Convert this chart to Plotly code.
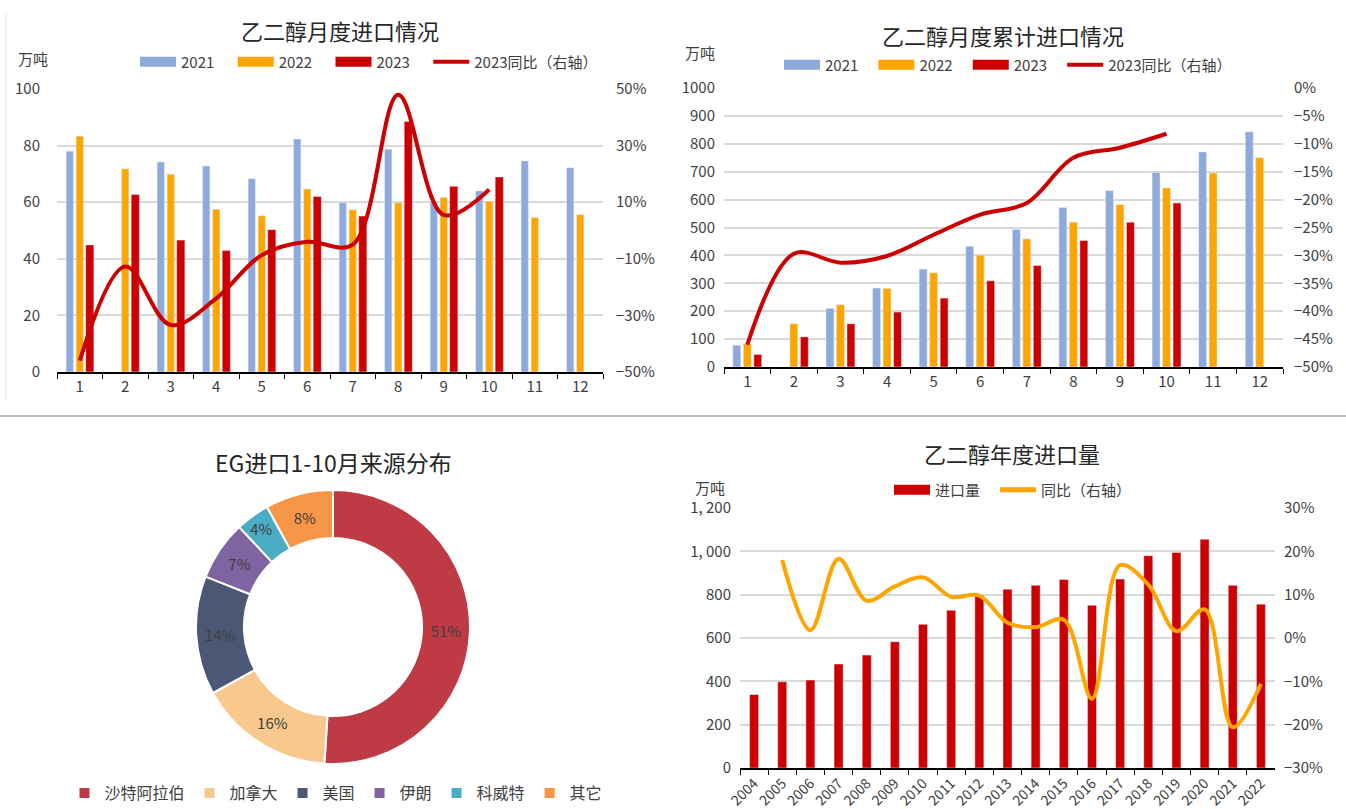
import plotly.graph_objects as go

# ---------------- data ----------------
months = [str(i) for i in range(1, 13)]
m2021 = [78.0, None, 74.2, 72.8, 68.3, 82.3, 59.8, 78.7, 60.2, 64.0, 74.6, 72.2]
m2022 = [83.3, 71.8, 69.9, 57.5, 55.2, 64.7, 57.3, 59.8, 61.7, 60.3, 54.6, 55.6]
m2023 = [44.9, 62.7, 46.6, 42.9, 50.3, 62.0, 55.1, 88.5, 65.6, 68.9]
m_yoy = [-46.0, -12.7, -33.4, -24.0, -8.7, -4.0, -5.0, 48.0, 5.5, 14.5]

c2021 = [78, None, 210, 283, 351, 433, 493, 572, 632, 697, 771, 843]
c2022 = [83, 155, 223, 282, 338, 401, 459, 519, 582, 642, 695, 750]
c2023 = [45, 108, 155, 197, 247, 309, 364, 453, 519, 588]
c_yoy = [-46.0, -29.7, -31.3, -30.1, -26.3, -22.7, -20.6, -12.5, -10.7, -8.2]

years = [str(y) for y in range(2004, 2023)]
annual = [339, 398, 406, 480, 521, 583, 663, 728, 795, 825, 843, 870, 751, 872, 980, 995, 1056, 843, 756]
annual_yoy = [None, 18.0, 1.8, 18.3, 8.6, 11.9, 14.0, 9.5, 9.8, 3.5, 2.5, 4.2, -14.0, 16.8, 12.3, 1.6, 6.6, -20.6, -10.6]

sources = ['沙特阿拉伯', '加拿大', '美国', '伊朗', '科威特', '其它']
shares = [51, 16, 14, 7, 4, 8]

annual_ticks = [0, 200, 400, 600, 800, 1000, 1200]
annual_tick_labels = ['0', '200', '400', '600', '800', '1, 000', '1, 200']

# ---------------- styles ----------------
W, H = 1346, 809
FONT = 'Noto Sans CJK SC'
C21, C22, C23 = '#8EA9DB', '#FFA500', '#CC0000'
TXT = '#404040'
GRID = '#D9D9D9'
pie_colors = ['#BE3B45', '#F9C88E', '#4A5775', '#8064A2', '#4BACC6', '#F79646']
PAD = '\u00a0'


def px_x(x):
    return x / W


def px_y(y):
    return 1 - y / H


fig = go.Figure()


def legend_swatch(name, color, legend, width=10):
    # legend-only entry drawn as a wide rectangle like the original
    fig.add_trace(go.Scatter(x=[None], y=[None], name=name, mode='lines',
                             line=dict(color=color, width=width), legend=legend,
                             hoverinfo='skip'))


# ---- top-left: monthly ----
fig.add_trace(go.Bar(x=months, y=m2021, name='2021', marker_color=C21, width=0.16, offset=-0.30,
                     xaxis='x', yaxis='y', showlegend=False))
fig.add_trace(go.Bar(x=months, y=m2022, name='2022', marker_color=C22, width=0.16, offset=-0.08,
                     xaxis='x', yaxis='y', showlegend=False))
fig.add_trace(go.Bar(x=months[:10], y=m2023, name='2023', marker_color=C23, width=0.18, offset=0.13,
                     xaxis='x', yaxis='y', showlegend=False))
fig.add_trace(go.Scatter(x=months[:10], y=m_yoy, name='2023同比（右轴）', mode='lines',
                         line=dict(color=C23, width=4, shape='spline', smoothing=1),
                         xaxis='x', yaxis='y2', showlegend=False))
legend_swatch('2021' + PAD * 4, C21, 'legend')
legend_swatch('2022' + PAD * 4, C22, 'legend')
legend_swatch('2023' + PAD * 4, C23, 'legend')
legend_swatch('2023同比（右轴）', C23, 'legend', width=4)

# ---- top-right: cumulative ----
fig.add_trace(go.Bar(x=months, y=c2021, name='2021', marker_color=C21, width=0.17, offset=-0.31,
                     xaxis='x2', yaxis='y3', showlegend=False))
fig.add_trace(go.Bar(x=months, y=c2022, name='2022', marker_color=C22, width=0.17, offset=-0.085,
                     xaxis='x2', yaxis='y3', showlegend=False))
fig.add_trace(go.Bar(x=months[:10], y=c2023, name='2023', marker_color=C23, width=0.17, offset=0.14,
                     xaxis='x2', yaxis='y3', showlegend=False))
fig.add_trace(go.Scatter(x=months[:10], y=c_yoy, name='2023同比（右轴）', mode='lines',
                         line=dict(color=C23, width=4, shape='spline', smoothing=1),
                         xaxis='x2', yaxis='y4', showlegend=False))
legend_swatch('2021' + PAD * 3, C21, 'legend2')
legend_swatch('2022' + PAD * 3, C22, 'legend2')
legend_swatch('2023' + PAD * 3, C23, 'legend2')
legend_swatch('2023同比（右轴）', C23, 'legend2', width=4)

# ---- bottom-right: annual ----
fig.add_trace(go.Bar(x=years, y=annual, name='进口量', marker_color=C23, width=0.32, offset=-0.16,
                     xaxis='x3', yaxis='y5', showlegend=False))
fig.add_trace(go.Scatter(x=years, y=annual_yoy, name='同比（右轴）', mode='lines',
                         line=dict(color=C22, width=4, shape='spline', smoothing=1),
                         xaxis='x3', yaxis='y6', showlegend=False))
legend_swatch('进口量' + PAD * 3, C23, 'legend4')
legend_swatch('同比（右轴）', C22, 'legend4', width=5)

# ---- bottom-left: donut ----
fig.add_trace(go.Pie(labels=sources, values=shares, hole=0.65, sort=False, direction='clockwise',
                     rotation=0, marker=dict(colors=pie_colors, line=dict(color='white', width=2)),
                     textinfo='percent', textposition='inside', insidetextorientation='horizontal',
                     textfont=dict(size=15, color=TXT, family=FONT),
                     domain=dict(x=[px_x(196), px_x(470)], y=[px_y(764), px_y(490)]),
                     legend='legend3', showlegend=True))

tickfont = dict(size=15, color=TXT, family=FONT)

xcommon = dict(type='category', showline=True, linecolor='black', linewidth=1.5, ticks='outside',
               tickson='boundaries', ticklen=5, tickcolor='black', showgrid=False, tickfont=tickfont,
               zeroline=False, automargin=False)
ycommon = dict(showgrid=True, gridcolor=GRID, gridwidth=1.5, zeroline=False, showline=False,
               tickfont=tickfont, ticks='', automargin=False)
yright = dict(showgrid=False, zeroline=False, showline=False, tickfont=tickfont, ticks='', side='right',
              ticksuffix='%', automargin=False)

legend_common = dict(orientation='h', xanchor='center', yanchor='middle', bgcolor='rgba(0,0,0,0)',
                     xref='container', yref='container')

fig.update_layout(
    width=W, height=H, margin=dict(l=0, r=0, t=0, b=0, autoexpand=False),
    paper_bgcolor='white', plot_bgcolor='white',
    font=dict(family=FONT, color=TXT, size=14),
    barmode='overlay',
    xaxis=dict(domain=[px_x(57), px_x(603)], anchor='y', **xcommon),
    yaxis=dict(domain=[px_y(372), px_y(89)], range=[0, 100], dtick=20, anchor='x',
               ticklabelstandoff=16, **ycommon),
    yaxis2=dict(overlaying='y', anchor='x', range=[-50, 50], tick0=-50, dtick=20,
                ticklabelstandoff=12, **yright),
    xaxis2=dict(domain=[px_x(724), px_x(1283)], anchor='y3', **xcommon),
    yaxis3=dict(domain=[px_y(367), px_y(88)], range=[0, 1000], dtick=100, anchor='x2',
                ticklabelstandoff=8, **ycommon),
    yaxis4=dict(overlaying='y3', anchor='x2', range=[-50, 0], tick0=-50, dtick=5,
                ticklabelstandoff=10, **yright),
    xaxis3=dict(domain=[px_x(740), px_x(1275)], anchor='y5', tickangle=-45,
                **{**xcommon, 'tickfont': dict(size=14, color=TXT, family=FONT)}),
    yaxis5=dict(domain=[px_y(768), px_y(508)], range=[0, 1200], tickvals=annual_ticks,
                ticktext=annual_tick_labels, anchor='x3', ticklabelstandoff=8, **ycommon),
    yaxis6=dict(overlaying='y5', anchor='x3', range=[-30, 30], tick0=-30, dtick=10,
                ticklabelstandoff=8, **yright),
    legend=dict(x=px_x(369), y=px_y(62), font=dict(size=15, color=TXT, family=FONT), itemwidth=36,
                **legend_common),
    legend2=dict(x=px_x(1008), y=px_y(65), font=dict(size=15, color=TXT, family=FONT), itemwidth=36,
                 **legend_common),
    legend3=dict(x=px_x(336), y=px_y(793), font=dict(size=16, color=TXT, family=FONT), itemwidth=30,
                 **legend_common),
    legend4=dict(x=px_x(1013), y=px_y(490), font=dict(size=15, color=TXT, family=FONT), itemwidth=36,
                 **legend_common),
    showlegend=True,
)

titles = [
    ('乙二醇月度进口情况', 340, 30, 22),
    ('乙二醇月度累计进口情况', 1003, 35, 22),
    ('EG进口1-10月来源分布', 333, 462, 23),
    ('乙二醇年度进口量', 1012, 453, 22),
]
for t, x, y, s in titles:
    fig.add_annotation(text=t, x=px_x(x), y=px_y(y), xref='paper', yref='paper', showarrow=False,
                       xanchor='center', yanchor='middle', font=dict(size=s, color='#262626', family=FONT))

units = [(33, 58), (700, 52), (710, 487)]
for x, y in units:
    fig.add_annotation(text='万吨', x=px_x(x), y=px_y(y), xref='paper', yref='paper', showarrow=False,
                       xanchor='center', yanchor='middle', font=dict(size=15, color=TXT, family=FONT))

fig.add_shape(type='line', xref='paper', yref='paper', x0=0, x1=1, y0=px_y(416), y1=px_y(416),
              line=dict(color='#BFBFBF', width=2))
fig.add_shape(type='line', xref='paper', yref='paper', x0=px_x(6), x1=px_x(6), y0=px_y(400), y1=px_y(14),
              line=dict(color='#E0E0E0', width=1))

fig.write_html(
    'out.html',
    config={'displayModeBar': False},
    post_script=("document.documentElement.style.margin='0';document.body.style.margin='0';"
                 "document.body.style.padding='0';document.documentElement.style.overflow='hidden';"
                 "document.body.style.overflow='hidden';"),
)
